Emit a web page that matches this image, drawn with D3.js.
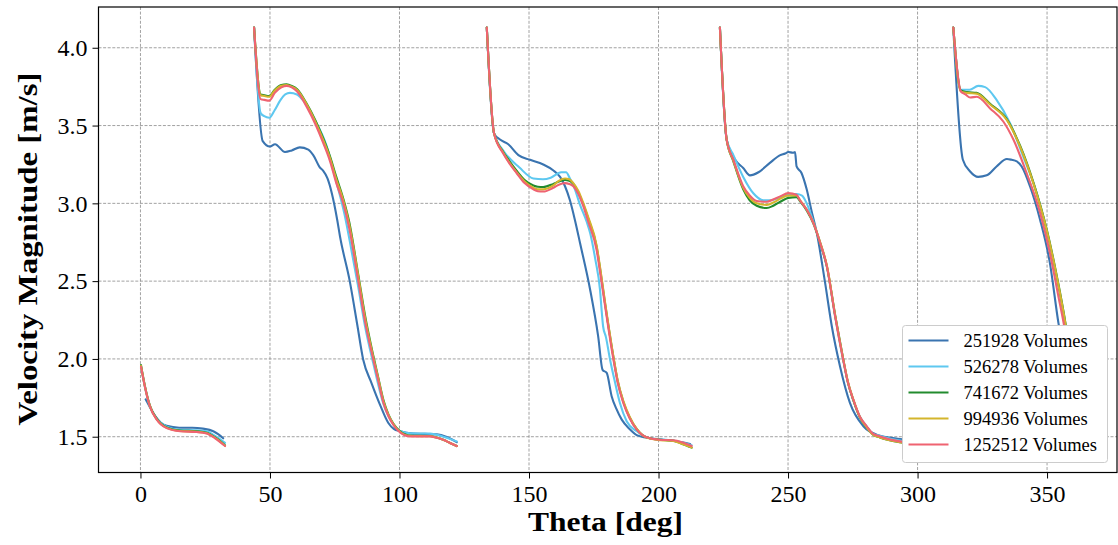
<!DOCTYPE html>
<html>
<head>
<meta charset="utf-8">
<script src="https://cdn.jsdelivr.net/npm/d3@7"></script>
<style>
  body { margin: 0; background: #fff; }
  svg { display: block; }
</style>
</head>
<body>
<div id="chart"></div>
<script>
// each series: list of segments, each segment a list of [theta, velocity]
var vol251928 = [
    [[2.0,1.74],[3.65,1.69],[5.57,1.635],[7.89,1.59],[10.12,1.57],[14.97,1.558],[20.02,1.558],[24.06,1.552],[28.1,1.535],[30.12,1.515],[31.94,1.49]],
    [[43.86,4.13],[47.2,3.40],[50.0,3.365],[51.95,3.38],[55.8,3.33],[58.4,3.34],[61.5,3.36],[64.8,3.345],[66.7,3.31],[69.3,3.23],[70.5,3.21],[72.2,3.16],[73.8,3.07],[76.0,2.89],[77.0,2.79],[80.8,2.50],[83.7,2.22],[86.0,1.995],[89.2,1.845],[92.5,1.705],[95.7,1.588],[97.8,1.55],[100.2,1.535],[105.3,1.52],[109.9,1.518],[114.4,1.515],[118.0,1.50],[122.1,1.465]],
    [[133.7,4.13],[136.5,3.45],[138.8,3.41],[142.0,3.38],[145.9,3.31],[150.4,3.28],[155.5,3.25],[159.3,3.213],[162.0,3.17],[163.9,3.11],[165.8,3.02],[167.7,2.895],[169.7,2.745],[173.6,2.445],[176.7,2.145],[178.4,1.93],[180.0,1.91],[181.9,1.76],[183.7,1.68],[185.8,1.61],[188.8,1.55],[191.6,1.51],[196.7,1.49],[201.9,1.48],[207.0,1.47],[212.2,1.453]],
    [[223.7,4.13],[226.3,3.41],[229.6,3.28],[232.7,3.227],[235.3,3.18],[238.6,3.20],[243.0,3.26],[247.0,3.31],[248.9,3.32],[250.1,3.33],[251.9,3.325],[252.7,3.33],[253.3,3.237],[255.2,3.195],[257.2,3.09],[259.1,2.95],[261.1,2.81],[264.3,2.49],[266.9,2.21],[270.1,1.95],[273.9,1.717],[279.1,1.567],[284.2,1.513],[293.2,1.485],[302.9,1.47]],
    [[313.8,4.13],[317.5,3.28],[320.3,3.205],[323.4,3.17],[326.7,3.18],[330.5,3.237],[334.5,3.285],[336.3,3.28],[338.3,3.27],[340.2,3.237],[343.4,3.11],[347.3,2.895],[351.1,2.616],[354.4,2.23],[357.5,1.95]]
];
var vol526278 = [
    [[0.21,1.95],[1.73,1.82],[3.65,1.695],[6.28,1.615],[10.12,1.565],[15.27,1.545],[21.74,1.542],[25.58,1.535],[28.81,1.505],[32.65,1.46]],
    [[43.86,4.13],[46.4,3.58],[47.8,3.56],[49.7,3.55],[51.85,3.60],[53.9,3.66],[55.9,3.70],[57.7,3.71],[60.4,3.70],[62.9,3.66],[66.5,3.56],[71.85,3.37],[75.6,3.14],[78.9,2.92],[81.1,2.73],[84.1,2.46],[86.7,2.21],[89.9,1.97],[93.8,1.71],[97.6,1.58],[100.2,1.537],[104.1,1.522],[111.8,1.52],[116.9,1.50],[122.1,1.47]],
    [[133.7,4.13],[136.5,3.45],[140.05,3.34],[146.3,3.23],[151.7,3.16],[155.4,3.155],[158.4,3.165],[162.4,3.20],[164.3,3.20],[165.8,3.16],[167.3,3.11],[169.7,2.99],[172.3,2.88],[173.6,2.81],[175.6,2.64],[177.4,2.445],[178.1,2.30],[178.6,2.21],[179.7,2.14],[181.3,1.995],[183.2,1.85],[185.1,1.717],[187.7,1.60],[191.6,1.535],[196.7,1.49],[205.7,1.475],[212.8,1.445]],
    [[223.7,4.13],[226.3,3.41],[228.9,3.31],[232.7,3.17],[236.6,3.065],[240.5,3.02],[243.3,3.02],[247.0,3.04],[250.1,3.06],[253.3,3.06],[255.4,3.05],[257.2,3.0],[259.8,2.88],[262.5,2.74],[265.0,2.59],[268.2,2.27],[271.3,1.99],[273.1,1.85],[275.2,1.735],[277.7,1.63],[280.4,1.565],[282.7,1.52],[285.5,1.505],[293.2,1.475],[302.9,1.46]],
    [[313.8,4.13],[316.7,3.73],[320.1,3.73],[323.4,3.755],[326.1,3.747],[330.5,3.665],[335.7,3.515],[340.8,3.30],[346.0,3.066],[350.3,2.79],[354.0,2.50],[357.0,2.23],[359.5,1.95]]
];
var vol741672 = [
    [[0.21,1.96],[1.73,1.825],[3.65,1.70],[6.28,1.615],[10.12,1.56],[15.27,1.54],[21.74,1.535],[25.58,1.525],[28.81,1.495],[32.65,1.445]],
    [[43.86,4.13],[46.4,3.70],[47.8,3.695],[49.7,3.69],[51.85,3.73],[54.4,3.76],[56.4,3.765],[58.4,3.755],[60.4,3.735],[64.2,3.64],[67.5,3.535],[70.5,3.42],[73.2,3.30],[75.6,3.17],[78.3,3.03],[80.6,2.88],[84.1,2.54],[86.7,2.28],[89.9,2.02],[91.8,1.88],[93.8,1.735],[95.8,1.64],[97.6,1.585],[100.2,1.535],[104.1,1.508],[111.8,1.505],[114.0,1.497],[116.9,1.48],[119.5,1.46],[122.1,1.44]],
    [[133.7,4.13],[136.5,3.45],[140.05,3.33],[142.3,3.275],[145.2,3.21],[148.3,3.15],[151.7,3.115],[153.4,3.107],[155.5,3.105],[159.4,3.125],[161.5,3.14],[163.9,3.15],[165.5,3.145],[167.1,3.125],[169.05,3.07],[171.0,2.99],[172.9,2.90],[176.1,2.72],[177.6,2.56],[179.4,2.35],[182.6,2.01],[184.2,1.86],[186.4,1.725],[188.8,1.625],[191.6,1.548],[193.8,1.51],[196.7,1.49],[200.9,1.48],[205.7,1.475],[209.0,1.455],[212.8,1.43]],
    [[223.7,4.13],[226.3,3.41],[228.9,3.27],[232.7,3.09],[235.2,3.02],[237.9,2.985],[241.8,2.97],[244.3,2.985],[247.0,3.01],[250.1,3.035],[253.3,3.04],[254.6,3.015],[257.2,2.955],[259.8,2.87],[262.5,2.74],[265.0,2.595],[268.2,2.28],[271.3,2.0],[273.1,1.85],[275.2,1.735],[277.7,1.625],[280.4,1.56],[282.7,1.515],[285.5,1.495],[293.2,1.465],[302.9,1.45]],
    [[313.8,4.13],[316.7,3.725],[319.1,3.715],[322.8,3.71],[328.0,3.64],[334.5,3.54],[339.6,3.37],[344.8,3.13],[349.9,2.83],[353.8,2.53],[357.1,2.23],[359.5,1.95]]
];
var vol994936 = [
    [[0.21,1.955],[1.73,1.822],[3.65,1.697],[6.28,1.612],[10.12,1.557],[15.27,1.537],[21.74,1.532],[25.58,1.522],[28.81,1.492],[32.65,1.442]],
    [[43.86,4.13],[46.4,3.695],[47.8,3.69],[49.7,3.685],[51.85,3.725],[54.4,3.755],[56.4,3.76],[58.4,3.75],[60.4,3.73],[64.2,3.635],[67.5,3.525],[70.5,3.41],[73.2,3.29],[75.6,3.155],[78.3,3.02],[80.6,2.865],[84.1,2.53],[86.7,2.265],[89.9,2.01],[91.8,1.875],[93.8,1.728],[95.8,1.637],[97.6,1.582],[100.2,1.532],[104.1,1.505],[111.8,1.503],[114.0,1.496],[116.9,1.48],[119.5,1.46],[122.1,1.44]],
    [[133.7,4.13],[136.5,3.45],[140.05,3.325],[142.3,3.265],[145.2,3.2],[148.3,3.14],[151.7,3.10],[153.4,3.09],[155.5,3.09],[159.4,3.115],[161.5,3.145],[163.9,3.16],[165.5,3.155],[167.1,3.13],[169.05,3.08],[171.0,3.0],[172.9,2.91],[176.1,2.73],[177.6,2.57],[179.4,2.36],[182.6,2.015],[184.2,1.865],[186.4,1.73],[188.8,1.63],[191.6,1.55],[193.8,1.51],[196.7,1.488],[200.9,1.478],[205.7,1.472],[209.0,1.455],[212.8,1.43]],
    [[223.7,4.13],[226.3,3.41],[228.9,3.275],[232.7,3.10],[235.2,3.035],[237.9,3.0],[241.8,2.99],[244.3,3.005],[247.0,3.03],[250.1,3.05],[253.3,3.05],[254.6,3.02],[257.2,2.96],[259.8,2.875],[262.5,2.745],[265.0,2.60],[268.2,2.28],[271.3,2.0],[273.1,1.855],[275.2,1.74],[277.7,1.628],[280.4,1.56],[282.7,1.515],[285.5,1.495],[293.2,1.465],[302.9,1.448]],
    [[313.8,4.13],[316.7,3.72],[319.1,3.71],[322.8,3.705],[328.0,3.635],[334.5,3.535],[339.6,3.365],[344.8,3.125],[349.9,2.825],[353.8,2.525],[357.1,2.225],[359.5,1.95]]
];
var vol1252512 = [
    [[0.21,1.95],[1.73,1.82],[3.65,1.695],[6.28,1.61],[10.12,1.555],[15.27,1.535],[21.74,1.53],[25.58,1.52],[28.81,1.49],[32.65,1.44]],
    [[43.86,4.13],[46.4,3.67],[47.8,3.665],[49.7,3.66],[51.85,3.71],[54.4,3.745],[56.4,3.755],[58.4,3.745],[60.4,3.72],[64.2,3.62],[67.5,3.51],[70.5,3.39],[73.2,3.27],[75.6,3.13],[78.3,3.0],[80.6,2.84],[84.1,2.50],[86.7,2.24],[89.9,1.995],[91.8,1.86],[93.8,1.717],[95.8,1.63],[97.6,1.577],[100.2,1.528],[104.1,1.502],[111.8,1.502],[114.0,1.495],[116.9,1.48],[119.5,1.46],[122.1,1.44]],
    [[133.7,4.13],[136.5,3.45],[140.05,3.32],[142.3,3.26],[145.2,3.195],[148.3,3.13],[151.7,3.09],[153.4,3.078],[155.5,3.076],[159.4,3.10],[161.5,3.12],[163.9,3.13],[165.5,3.125],[167.1,3.11],[169.05,3.06],[171.0,2.98],[172.9,2.88],[176.1,2.70],[177.6,2.54],[179.4,2.337],[182.6,1.995],[184.2,1.85],[186.4,1.717],[188.8,1.62],[191.6,1.545],[193.8,1.51],[196.7,1.49],[200.9,1.48],[205.7,1.477],[209.0,1.465],[212.8,1.44]],
    [[223.7,4.13],[226.3,3.41],[228.9,3.28],[232.7,3.11],[235.2,3.05],[237.9,3.015],[241.8,3.01],[244.3,3.025],[247.0,3.045],[250.1,3.066],[253.3,3.055],[254.6,3.02],[257.2,2.96],[259.8,2.873],[262.5,2.74],[265.0,2.595],[268.2,2.273],[271.3,1.995],[273.1,1.85],[275.2,1.738],[277.7,1.63],[280.4,1.567],[282.7,1.52],[285.5,1.502],[293.2,1.47],[302.9,1.455]],
    [[313.8,4.13],[316.7,3.72],[318.5,3.70],[320.3,3.68],[322.9,3.685],[328.0,3.61],[333.1,3.526],[337.0,3.41],[342.1,3.195],[347.3,2.94],[351.1,2.68],[354.4,2.40],[356.4,2.23],[359.0,1.95]]
];

var seriesNames = ['251928 Volumes', '526278 Volumes', '741672 Volumes', '994936 Volumes', '1252512 Volumes'];
var seriesColors = ['#3a74b0', '#5ec8f0', '#228b2e', '#d4b52c', '#ef6371'];
var seriesData = [vol251928, vol526278, vol741672, vol994936, vol1252512];

var xTicks = [0, 50, 100, 150, 200, 250, 300, 350];
var yTicks = [1.5, 2.0, 2.5, 3.0, 3.5, 4.0];

function drawChart() {
    var width = 1118, height = 545;
    var plot = {left: 98.5, top: 7, right: 1117, bottom: 472.5};
    var serif = '"Liberation Serif", "Times New Roman", serif';

    var svg = d3.select('#chart')
        .append('svg')
        .attr('width', width)
        .attr('height', height);

    var x = d3.scaleLinear().domain([-16.2, 377]).range([plot.left, plot.right]);
    var y = d3.scaleLinear().domain([1.27, 4.262]).range([plot.bottom, plot.top]);

    svg.append('defs').append('clipPath')
        .attr('id', 'plot-clip')
        .append('rect')
        .attr('x', plot.left).attr('y', plot.top)
        .attr('width', plot.right - plot.left)
        .attr('height', plot.bottom - plot.top);

    // dashed grid
    var grid = svg.append('g').attr('stroke', '#8a8a8a').attr('stroke-width', 0.8).attr('stroke-dasharray', '3,1.6');
    grid.selectAll('.gx').data(xTicks).join('line')
        .attr('x1', function(d) { return x(d); }).attr('x2', function(d) { return x(d); })
        .attr('y1', plot.top).attr('y2', plot.bottom);
    grid.selectAll('.gy').data(yTicks).join('line')
        .attr('x1', plot.left).attr('x2', plot.right)
        .attr('y1', function(d) { return y(d); }).attr('y2', function(d) { return y(d); });

    var line = d3.line()
        .x(function(d) { return x(d[0]); })
        .y(function(d) { return y(d[1]); })
        .curve(d3.curveMonotoneX);

    var lines = svg.append('g').attr('clip-path', 'url(#plot-clip)');
    seriesData.forEach(function(segs, i) {
        lines.append('g')
            .selectAll('path')
            .data(segs)
            .join('path')
            .attr('d', line)
            .attr('fill', 'none')
            .attr('stroke', seriesColors[i])
            .attr('stroke-width', 2.1)
            .attr('stroke-linejoin', 'round')
            .attr('stroke-linecap', 'round');
    });

    // axes
    var xAxis = svg.append('g')
        .attr('transform', 'translate(0,' + plot.bottom + ')')
        .call(d3.axisBottom(x).tickValues(xTicks).tickSize(6).tickPadding(6).tickSizeOuter(0));
    var yAxis = svg.append('g')
        .attr('transform', 'translate(' + plot.left + ',0)')
        .call(d3.axisLeft(y).tickValues(yTicks).tickFormat(d3.format('.1f')).tickSize(6).tickPadding(5).tickSizeOuter(0));
    [xAxis, yAxis].forEach(function(a) {
        a.select('.domain').remove();
        a.selectAll('line').attr('stroke', '#000').attr('stroke-width', 1);
        a.selectAll('text').attr('font-family', serif).attr('font-size', 24).attr('fill', '#000');
    });

    svg.append('rect')
        .attr('x', plot.left).attr('y', plot.top)
        .attr('width', plot.right - plot.left)
        .attr('height', plot.bottom - plot.top)
        .attr('fill', 'none')
        .attr('stroke', '#000')
        .attr('stroke-width', 1.2);

    svg.append('text')
        .attr('x', 605.5).attr('y', 531)
        .attr('text-anchor', 'middle')
        .attr('font-family', serif).attr('font-weight', 'bold').attr('font-size', 27)
        .attr('textLength', 155).attr('lengthAdjust', 'spacingAndGlyphs')
        .text('Theta [deg]');

    svg.append('text')
        .attr('transform', 'translate(37,249) rotate(-90)')
        .attr('text-anchor', 'middle')
        .attr('font-family', serif).attr('font-weight', 'bold').attr('font-size', 27)
        .attr('textLength', 353).attr('lengthAdjust', 'spacingAndGlyphs')
        .text('Velocity Magnitude [m/s]');

    // legend (opaque box over the curves)
    var lg = svg.append('g').attr('transform', 'translate(902.5,325.5)');
    lg.append('rect')
        .attr('width', 205).attr('height', 137)
        .attr('rx', 3)
        .attr('fill', '#fff')
        .attr('stroke', '#cccccc').attr('stroke-width', 1);
    var item = lg.selectAll('.item')
        .data(seriesNames)
        .join('g')
        .attr('transform', function(d, i) { return 'translate(0,' + (15 + i * 26) + ')'; });
    item.append('line')
        .attr('x1', 6).attr('x2', 46)
        .attr('stroke', function(d, i) { return seriesColors[i]; })
        .attr('stroke-width', 2);
    item.append('text')
        .attr('x', 61).attr('y', 6.5)
        .attr('font-family', serif).attr('font-size', 18.5)
        .attr('fill', '#000')
        .text(function(d) { return d; });
}

drawChart();
</script>
</body>
</html>
